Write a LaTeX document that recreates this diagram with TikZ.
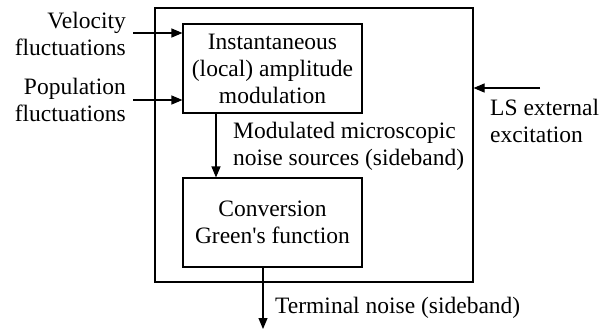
\documentclass[tikz,border=0pt]{standalone}
\usepackage{fontspec}
\setmainfont{Liberation Serif}
\newfontfamily\timesfont{Liberation Serif}
\usetikzlibrary{arrows.meta}
\begin{document}
\begin{tikzpicture}[x=1pt,y=-1pt,
  txt/.style={font=\timesfont\fontsize{23.5}{27}\selectfont, inner sep=0pt},
  blk/.style={draw, line width=1.1pt, txt, align=center, minimum width=179pt, minimum height=89pt},
  frame/.style={draw, line width=1.1pt, minimum width=318pt, minimum height=274pt, inner sep=0pt},
  arr/.style={line width=1.1pt, -{Triangle[length=11pt,width=9pt]}}]
\useasboundingbox (0,0) rectangle (615,330);
\node[frame] (outer) at (314,145) {};
\node[blk] (top) at (272.5,68.5) {Instantaneous\\(local) amplitude\\modulation};
\node[blk] (bot) at (272.5,222.5) {Conversion\\Green\textquotesingle s function};
\node[txt, align=right, anchor=north east] (vel) at (126,12) {Velocity\\fluctuations};
\node[txt, align=right, anchor=north east] (pop) at (126,78) {Population\\fluctuations};
\node[txt, align=left, anchor=north west] (mod) at (233,122) {Modulated microscopic\\noise sources (sideband)};
\node[txt, align=left, anchor=north west] (ls) at (490,99) {LS external\\excitation};
\node[txt, anchor=north west] (term) at (275,297) {Terminal noise (sideband)};
\coordinate (v1) at (133,33);
\coordinate (p1) at (133,100);
\coordinate (l1) at (540,88);
\coordinate (vx) at (216,0);
\coordinate (tx) at (263,0);
\coordinate (tend) at (263,329);
\draw[arr] (v1) -- (v1 -| top.west);
\draw[arr] (p1) -- (p1 -| top.west);
\draw[arr] (l1) -- (l1 -| outer.east);
\draw[arr] (top.south -| vx) -- (bot.north -| vx);
\draw[arr] (bot.south -| tx) -- (tend);
\end{tikzpicture}
\end{document}
